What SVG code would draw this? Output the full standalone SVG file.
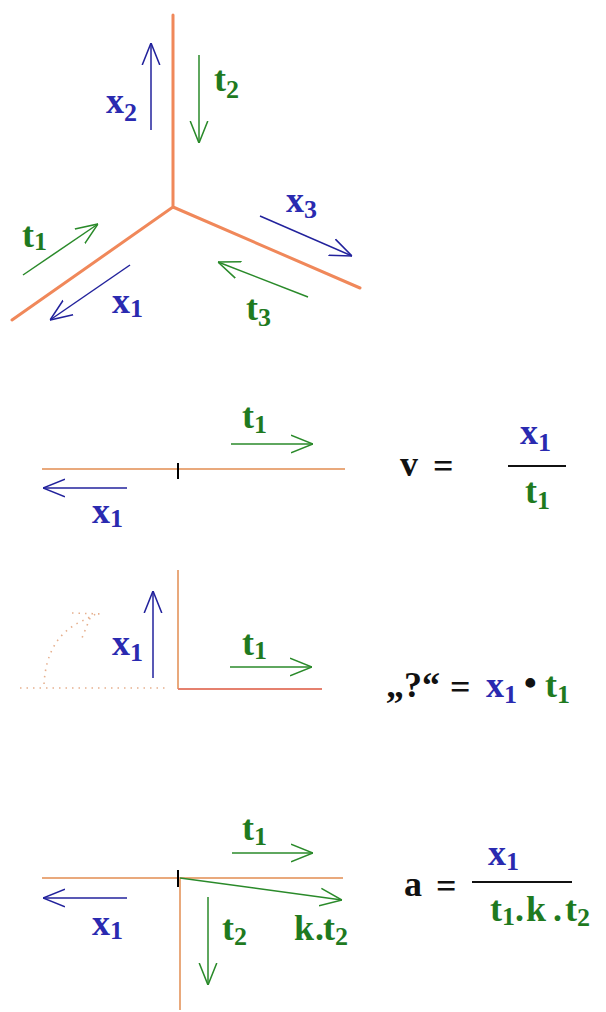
<svg xmlns="http://www.w3.org/2000/svg" width="606" height="1012" viewBox="0 0 606 1012">
<style>
.ax1{stroke:#f0885a;stroke-width:3;fill:none;stroke-linecap:round}
.ax{stroke:#e9a97c;stroke-width:2;fill:none}
.axr{stroke:#e5806e;stroke-width:2;fill:none}
.tick{stroke:#000;stroke-width:2}
.ab{stroke:#22229c;stroke-width:1.5;fill:none;marker-end:url(#mb)}
.ag{stroke:#2a8a2a;stroke-width:1.5;fill:none;marker-end:url(#mg)}
.dot{stroke:#e6b08e;stroke-width:1.6;fill:none;stroke-dasharray:1.5 5}
text{font-family:"Liberation Serif","Times New Roman",serif;font-weight:bold;font-size:36px}
.b{fill:#2a2ab0}
.g{fill:#1f7a1f}
.k{fill:#111}
.s{font-size:26px}
.frac{stroke:#111;stroke-width:2}
</style>
<defs>
<marker id="mb" viewBox="0 0 20 20" markerWidth="22" markerHeight="22" refX="20" refY="10" orient="auto" markerUnits="userSpaceOnUse"><path d="M0,2 L20,10 L0,18" fill="none" stroke="#22229c" stroke-width="1.4"/></marker>
<marker id="mg" viewBox="0 0 20 20" markerWidth="22" markerHeight="22" refX="20" refY="10" orient="auto" markerUnits="userSpaceOnUse"><path d="M0,2 L20,10 L0,18" fill="none" stroke="#2a8a2a" stroke-width="1.4"/></marker>
</defs>
<g id="axes">
<path class="ax1" d="M173,15 L173,207 L12,320 M173,207 L360,288"/>
<path class="ax" d="M42,469 L345,469"/>
<path class="tick" d="M178,463 L178,479"/>
<path class="ax" d="M178,570 L178,689"/>
<path class="axr" d="M178,689 L322,689"/>
<path class="ax" d="M42,878 L343,878 M180,878 L180,1010"/>
<path class="tick" d="M178,870 L178,887"/>
<path class="dot" d="M20,688 L168,688 M44,684 C46,650 60,632 80,622 L96,614 M72,613 L102,614 M90,618 L82,638"/>
</g>
<g id="connectors">
<path class="ab" d="M151,130 L151,43"/>
<path class="ag" d="M199,55 L199,143"/>
<path class="ag" d="M23,275 L98,224"/>
<path class="ab" d="M130,265 L50,320"/>
<path class="ab" d="M260,216 L352,256"/>
<path class="ag" d="M308,297 L218,262"/>
<path class="ag" d="M231,444 L313,444"/>
<path class="ab" d="M127,488 L43,488"/>
<path class="ab" d="M153,678 L153,591"/>
<path class="ag" d="M230,667 L312,667"/>
<path class="ag" d="M232,853 L313,853"/>
<path class="ab" d="M127,898 L43,898"/>
<path class="ag" d="M180,878 L342,900"/>
<path class="ag" d="M208,897 L208,985"/>
</g>
<g id="labels1">
<text class="b" x="106" y="113">x<tspan class="s" x="124" y="121">2</tspan></text>
<text class="g" x="214" y="91">t<tspan class="s" x="226" y="98">2</tspan></text>
<text class="g" x="22" y="247">t<tspan class="s" x="34" y="250">1</tspan></text>
<text class="b" x="112" y="313">x<tspan class="s" x="130" y="317">1</tspan></text>
<text class="b" x="286" y="212">x<tspan class="s" x="304" y="218">3</tspan></text>
<text class="g" x="246" y="320">t<tspan class="s" x="258" y="326">3</tspan></text>
</g>
<g id="labels2">
<text class="g" x="242" y="428">t<tspan class="s" x="254" y="433">1</tspan></text>
<text class="b" x="92" y="523">x<tspan class="s" x="110" y="527">1</tspan></text>
</g>
<g id="formula-v">
<text class="k" x="400" y="476">v</text>
<text class="k" x="433" y="478">=</text>
<line class="frac" x1="508" y1="466" x2="566" y2="466"/>
<text class="b" x="520" y="444">x<tspan class="s" x="538" y="451">1</tspan></text>
<text class="g" x="525" y="503">t<tspan class="s" x="537" y="509">1</tspan></text>
</g>
<g id="labels3">
<text class="b" x="112" y="655">x<tspan class="s" x="130" y="661">1</tspan></text>
<text class="g" x="242" y="655">t<tspan class="s" x="254" y="659">1</tspan></text>
</g>
<g id="formula-product">
<text class="k" x="386" y="697">„?“</text>
<text class="k" x="450" y="699">=</text>
<text class="b" x="486" y="697">x<tspan class="s" x="504" y="703">1</tspan></text>
<text class="k" x="524" y="695" font-size="22">•</text>
<text class="g" x="545" y="697">t<tspan class="s" x="557" y="703">1</tspan></text>
</g>
<g id="labels4">
<text class="g" x="242" y="840">t<tspan class="s" x="254" y="845">1</tspan></text>
<text class="b" x="92" y="935">x<tspan class="s" x="110" y="939">1</tspan></text>
<text class="g" x="222" y="940">t<tspan class="s" x="234" y="945">2</tspan></text>
<text class="g" x="294" y="940">k<tspan x="315">.</tspan><tspan x="323">t</tspan><tspan class="s" x="335" y="945">2</tspan></text>
</g>
<g id="formula-a">
<text class="k" x="404" y="896">a</text>
<text class="k" x="436" y="898">=</text>
<line class="frac" x1="472" y1="882" x2="572" y2="882"/>
<text class="b" x="488" y="865">x<tspan class="s" x="506" y="870">1</tspan></text>
<text class="g" x="490" y="921">t<tspan class="s" x="502" y="925">1</tspan><tspan x="515" y="921">.</tspan><tspan x="526">k</tspan><tspan x="553">.</tspan><tspan x="565">t</tspan><tspan class="s" x="577" y="926">2</tspan></text>
</g>
</svg>
